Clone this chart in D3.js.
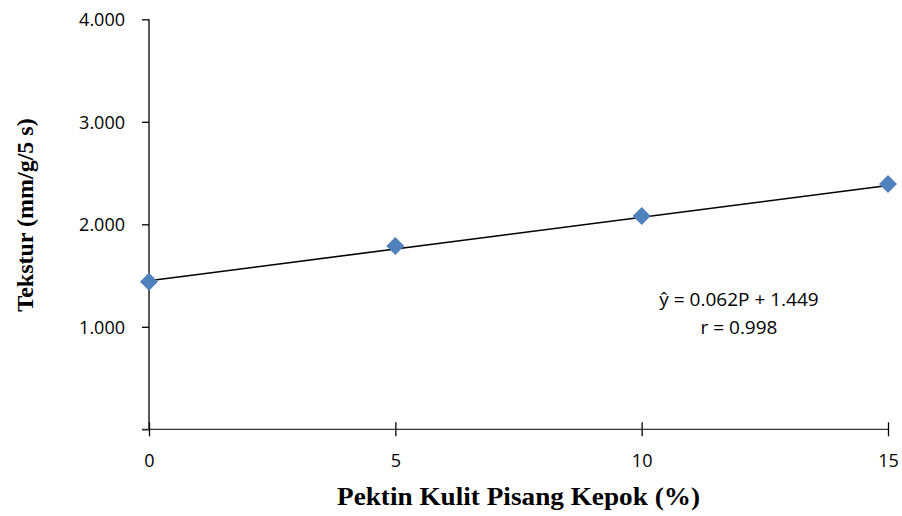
<!DOCTYPE html>
<html>
<head>
<meta charset="utf-8">
<script src="https://cdn.jsdelivr.net/npm/d3@7"></script>
<style>
  body { margin: 0; background: #fff; }
  svg { display: block; }
  .tick text { font-family: "Open Sans", "Noto Sans", sans-serif; font-size: 18px; fill: #000; }
  .title { font-family: "Liberation Serif", "Times New Roman", serif; font-weight: bold; font-size: 24px; fill: #000; }
  .eq { font-family: "Open Sans", "Noto Sans", sans-serif; font-size: 19px; fill: #000; }
</style>
</head>
<body>
<div id="chart"></div>
<script>
// data
var pektin = [0, 5, 10, 15];
var tekstur = [1.44, 1.788, 2.08, 2.393];
var trendX = [0, 15];
var trendY = [1.449, 2.379];
var yTicks = [0, 1, 2, 3, 4];
var xTicks = [0, 5, 10, 15];
var eqLines = ["ŷ = 0.062P + 1.449", "r = 0.998"];

var W = 902, H = 516;
var plotL = 149, plotR = 888, plotT = 19.3, plotB = 429.3;

var svg = d3.select('#chart').append('svg')
  .attr('width', W).attr('height', H);

var x = d3.scaleLinear().domain([0, 15]).range([plotL, plotR]);
var y = d3.scaleLinear().domain([0, 4]).range([plotB, plotT]);

// y axis
var yAxis = svg.append('g')
  .attr('transform', 'translate(' + plotL + ',0)')
  .call(d3.axisLeft(y).tickValues(yTicks).tickSize(7).tickPadding(17)
    .tickFormat(function(d){ return d === 0 ? '' : d3.format('.3f')(d); }));
yAxis.select('.domain').attr('stroke', '#000').attr('stroke-width', 1.3).attr('d', 'M0,' + plotT + 'V' + plotB);
yAxis.selectAll('.tick line').attr('stroke', '#000').attr('stroke-width', 1.3);
yAxis.selectAll('.tick text').attr('dy', '0.36em');

// x axis
var xAxis = svg.append('g')
  .attr('transform', 'translate(0,' + plotB + ')')
  .call(d3.axisBottom(x).tickValues(xTicks).tickSize(7));
xAxis.select('.domain').attr('stroke', '#333').attr('stroke-width', 1.3).attr('d', 'M' + (plotL - 7) + ',0H' + plotR);
xAxis.selectAll('.tick line').attr('stroke', '#000').attr('stroke-width', 1.3).attr('y1', -7);
xAxis.selectAll('.tick text').attr('y', 38).attr('dy', 0);

// trendline
svg.append('line')
  .attr('x1', x(trendX[0])).attr('y1', y(trendY[0]))
  .attr('x2', x(trendX[1])).attr('y2', y(trendY[1]))
  .attr('stroke', '#000').attr('stroke-width', 1.6);

// markers
var s = 9;
svg.selectAll('path.pt')
  .data(pektin)
  .enter()
  .append('path')
  .attr('class', 'pt')
  .attr('d', function(d, i){
    var cx = x(d), cy = y(tekstur[i]);
    return 'M' + cx + ',' + (cy - s) + 'L' + (cx + s) + ',' + cy + 'L' + cx + ',' + (cy + s) + 'L' + (cx - s) + ',' + cy + 'Z';
  })
  .attr('fill', '#4F81BD');

// equation
svg.selectAll('text.eq')
  .data(eqLines)
  .enter()
  .append('text')
  .attr('class', 'eq')
  .attr('x', 739)
  .attr('y', function(d, i){ return 306 + i * 28; })
  .attr('text-anchor', 'middle')
  .text(function(d){ return d; });

// axis titles
svg.append('text').attr('class', 'title')
  .attr('x', 518.5).attr('y', 505)
  .attr('text-anchor', 'middle')
  .style('font-size', '26px')
  .attr('textLength', 363).attr('lengthAdjust', 'spacingAndGlyphs')
  .text('Pektin Kulit Pisang Kepok (%)');

svg.append('text').attr('class', 'title')
  .attr('transform', 'translate(33,215) rotate(-90)')
  .attr('text-anchor', 'middle')
  .text('Tekstur (mm/g/5 s)');
</script>
</body>
</html>
